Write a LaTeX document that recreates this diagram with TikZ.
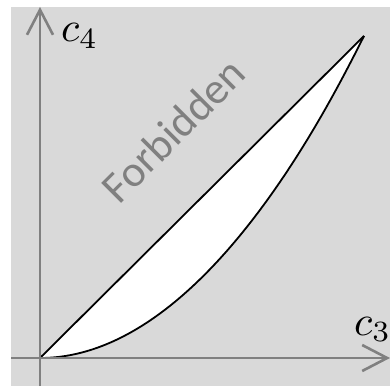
\documentclass[tikz,border=0pt]{standalone}
\usepackage{fontspec}
\newfontfamily\carl{Carlito}
\usetikzlibrary{arrows.meta}
\definecolor{bg}{RGB}{217,217,217}
\definecolor{axisgray}{RGB}{128,128,128}
\tikzset{
  axisline/.style={draw=axisgray, line width=2.6pt, -{Straight Barb[length=25pt,width=26pt,line width=2.6pt]}},
  boundary/.style={draw=black, line width=1.8pt, line join=round},
  axlabel/.style={inner sep=0pt},
}
\begin{document}
\begin{tikzpicture}[x=1pt,y=1pt]
\useasboundingbox (0,0) rectangle (390,386);
\fill[bg] (11,0) rectangle (390,379);
\coordinate (O) at (40,28);
\coordinate (P) at (364,350);
\coordinate (xs) at (11,28);
\coordinate (xe) at (390,28);
\coordinate (ys) at (40,0);
\coordinate (ye) at (40,379);
\fill[white] (O) parabola (P) -- cycle;
\draw[boundary] (O) -- (P);
\draw[boundary] (O) parabola (P);
\draw[axisline] (xs) -- (xe);
\draw[axisline] (ys) -- (ye);
\node[axlabel, anchor=base west] (c4) at (61,344) {\scalebox{4.2}{$c_4$}};
\node[axlabel, anchor=base west] (c3) at (354,51) {\scalebox{4.2}{$c_3$}};
\node[inner sep=0pt, rotate=45, text=axisgray, font=\carl\fontsize{44}{48}\selectfont] (fb) at (173,256) {Forbidden};
\end{tikzpicture}
\end{document}
